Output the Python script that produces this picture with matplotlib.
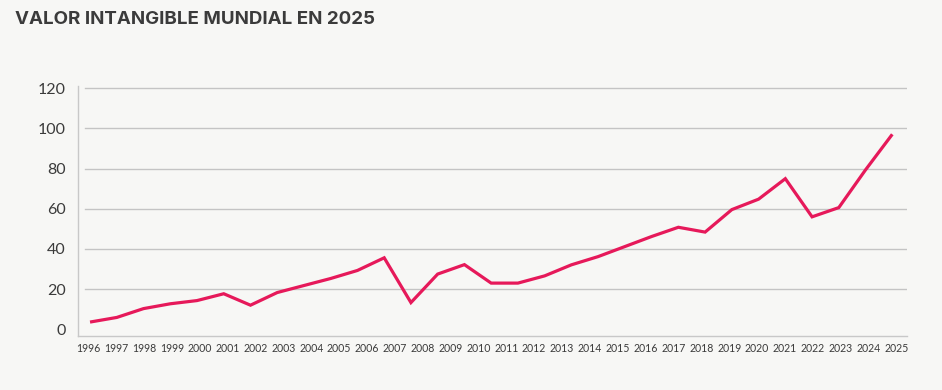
import numpy as np
import matplotlib
matplotlib.use("Agg")
import matplotlib.pyplot as plt

# Values (the line has 31 points, the axis 30 year labels)
years = [str(y) for y in range(1996, 2026)]
values = [3.6, 5.9, 10.3, 12.7, 14.3, 17.7, 12.0, 18.3, 21.8, 25.3, 29.3,
          35.6, 13.3, 27.5, 32.2, 23.0, 23.0, 26.6, 32.1, 36.2, 41.2, 46.2,
          50.8, 48.4, 59.6, 64.8, 75.0, 56.0, 60.6, 79.4, 97.1]
yticks = [0, 20, 40, 60, 80, 100, 120]

bg = "#f7f7f5"
txt = "#3b3b3b"
red = "#e6195a"

plt.rcParams['font.family'] = ['Lato', 'DejaVu Sans']

fig = plt.figure(figsize=(9.42, 3.90), dpi=100, facecolor=bg)
ax = fig.add_axes([78/942, 1 - 336/390, 829/942, 250/390])
ax.set_facecolor(bg)

ax.set_ylim(-3.34, 121.15)
ax.set_xlim(-0.45, 30.55)

# gridlines start a little right of the left axis line
for y in yticks[1:]:
    ax.axhline(y, xmin=7/829, xmax=1, color="#c4c4c4", lw=1.0, zorder=1)

x = np.arange(len(values))
ax.plot(x, values, color=red, lw=2.3, solid_joinstyle="miter",
        solid_capstyle="butt", zorder=3)

for side in ["top", "right"]:
    ax.spines[side].set_visible(False)
for side in ["left", "bottom"]:
    ax.spines[side].set_color("#c8c8c8")
    ax.spines[side].set_linewidth(1.0)

ax.set_yticks(yticks)
ax.set_yticklabels([str(v) for v in yticks], fontsize=11.5, color=txt)
ax.tick_params(axis="y", length=0, pad=9)

ax.set_xticks(np.linspace(-0.06, 30.15, len(years)))
ax.set_xticklabels(years, fontsize=7.6, color=txt)
ax.tick_params(axis="x", length=0, pad=5)

fig.text(15/942, 1 - 20/390, "VALOR INTANGIBLE MUNDIAL EN 2025",
         fontsize=13.5, fontweight="bold", color=txt, va="center", ha="left",
         family=['Inter', 'DejaVu Sans'])

fig.savefig("out.png", dpi=100, facecolor=bg)
